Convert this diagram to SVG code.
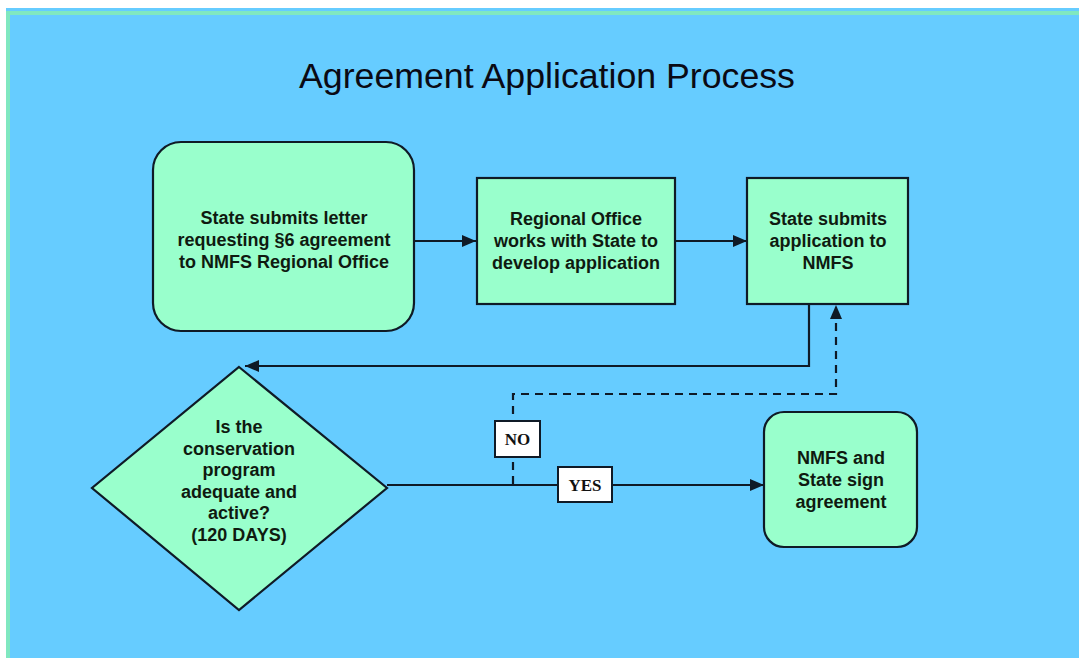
<svg xmlns="http://www.w3.org/2000/svg" width="1079" height="658" viewBox="0 0 1079 658">
<style>
.node{fill:#99FFCC;stroke:#0f1a26;stroke-width:2.2}
.t{font-family:"Liberation Sans",Arial,sans-serif;font-weight:bold;font-size:18px;fill:#0f1a10;text-anchor:middle}
.title{font-family:"Liberation Sans",Arial,sans-serif;font-size:35.7px;fill:#0a0a14;text-anchor:middle}
.lbl{fill:#ffffff;stroke:#0f1a26;stroke-width:2}
.lt{font-family:"Liberation Serif","Times New Roman",serif;font-weight:bold;font-size:17px;fill:#111;text-anchor:middle}
.c{fill:none;stroke:#0f1a26;stroke-width:2.2}
.d{stroke-dasharray:8 6}
</style>
<defs>
<marker id="ah" viewBox="0 0 14 12" refX="14" refY="6" markerWidth="14" markerHeight="12" markerUnits="userSpaceOnUse" orient="auto">
<path d="M0,0 L14,6 L0,12 Z" fill="#0f1a26"/>
</marker>
</defs>
<rect x="0" y="0" width="1079" height="658" fill="#ffffff"/>
<rect x="6" y="8" width="1073" height="650" fill="#66CCFF"/>
<path d="M8,658 L8,13 L1079,13" fill="none" stroke="#80E8C0" stroke-width="4"/>
<text class="title" x="547" y="88">Agreement Application Process</text>

<g id="connectors">
<line class="c" x1="414" y1="241" x2="476" y2="241" marker-end="url(#ah)"/>
<line class="c" x1="675" y1="241" x2="747" y2="241" marker-end="url(#ah)"/>
<polyline class="c" points="809,304 809,366 245,366" marker-end="url(#ah)"/>
<polyline class="c d" points="513,484 513,394 836,394 836,305" marker-end="url(#ah)"/>
<line class="c" x1="387" y1="485" x2="764" y2="485" marker-end="url(#ah)"/>
</g>

<g id="node-letter">
<rect class="node" x="153" y="142" width="261" height="189" rx="28"/>
<text class="t" x="284" y="224">State submits letter</text>
<text class="t" x="284" y="246">requesting §6 agreement</text>
<text class="t" x="284" y="268">to NMFS Regional Office</text>
</g>

<g id="node-regional">
<rect class="node" x="477" y="178" width="198" height="126"/>
<text class="t" x="576" y="225">Regional Office</text>
<text class="t" x="576" y="247">works with State to</text>
<text class="t" x="576" y="269">develop application</text>
</g>

<g id="node-submit">
<rect class="node" x="747" y="178" width="161" height="126"/>
<text class="t" x="828" y="225">State submits</text>
<text class="t" x="828" y="247">application to</text>
<text class="t" x="828" y="269">NMFS</text>
</g>

<g id="node-decision">
<polygon class="node" points="239,367 387,488 239,610 92,488"/>
<text class="t" x="239" y="433">Is the</text>
<text class="t" x="239" y="454.5">conservation</text>
<text class="t" x="239" y="476">program</text>
<text class="t" x="239" y="497.5">adequate and</text>
<text class="t" x="239" y="519">active?</text>
<text class="t" x="239" y="540.5">(120 DAYS)</text>
</g>

<g id="node-sign">
<rect class="node" x="764" y="412" width="153" height="135" rx="20"/>
<text class="t" x="841" y="464">NMFS and</text>
<text class="t" x="841" y="486">State sign</text>
<text class="t" x="841" y="508">agreement</text>
</g>

<g id="label-no">
<rect class="lbl" x="495" y="421" width="45" height="36"/>
<text class="lt" x="517.5" y="445">NO</text>
</g>
<g id="label-yes">
<rect class="lbl" x="558" y="467" width="54" height="35"/>
<text class="lt" x="585" y="491">YES</text>
</g>
</svg>
